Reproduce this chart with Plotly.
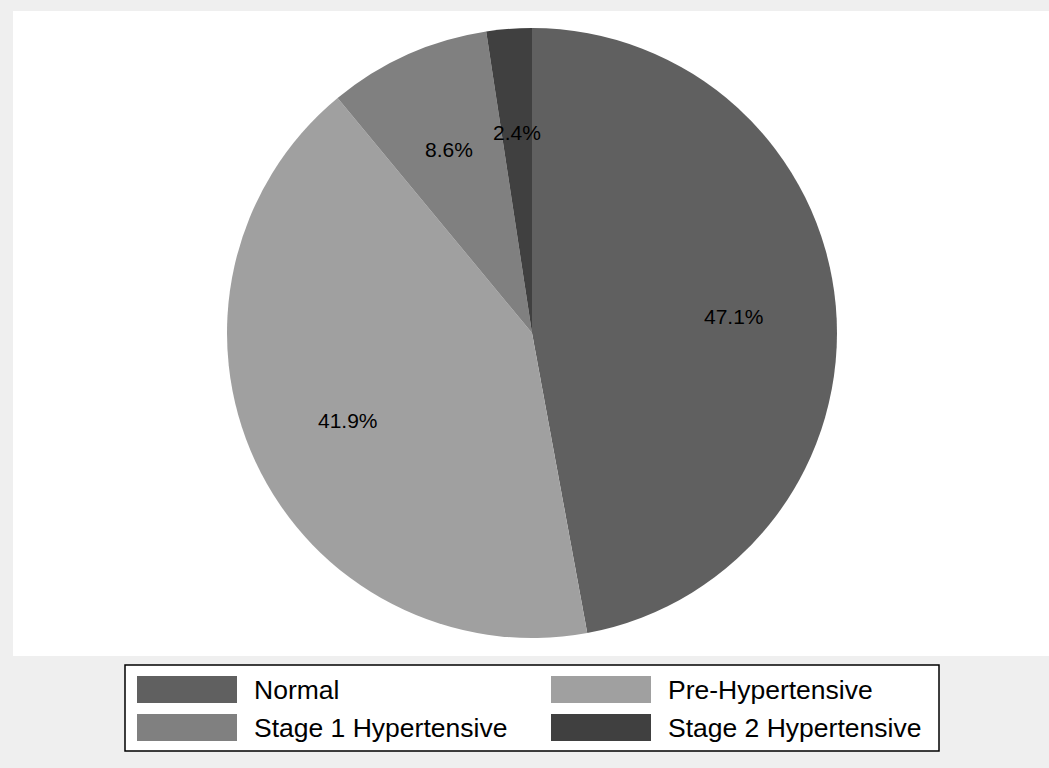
import math
import plotly.graph_objects as go

labels = ["Normal", "Pre-Hypertensive", "Stage 1 Hypertensive", "Stage 2 Hypertensive"]
values = [47.1, 41.9, 8.6, 2.4]
colors = ["#606060", "#a0a0a0", "#808080", "#404040"]

W, H = 1049, 768
FONT = "Liberation Sans, Arial, sans-serif"

# pie geometry in pixels
cx, cy, R = 532, 333, 305

def px(x):
    return x / W

def py(y):
    return 1 - y / H

fig = go.Figure()
fig.add_trace(go.Pie(
    labels=labels, values=values, sort=False, direction="clockwise", rotation=0,
    marker=dict(colors=colors, line=dict(width=0)),
    textinfo="none", hoverinfo="label+percent", showlegend=False,
    domain=dict(x=[px(cx - R), px(cx + R)], y=[py(cy + R), py(cy - R)]),
))

shapes = []
annotations = []

# white plot region
shapes.append(dict(type="rect", xref="paper", yref="paper", layer="below",
                   x0=px(13), x1=1.01, y0=py(656), y1=py(11),
                   fillcolor="white", line=dict(width=0)))

# slice labels at 2/3 radius
total = sum(values)
cum = 0
for v in values:
    mid = (cum + v / 2) / total * 2 * math.pi
    cum += v
    lx = cx + (2 / 3) * R * math.sin(mid)
    ly = cy - (2 / 3) * R * math.cos(mid) + 2
    annotations.append(dict(x=px(lx), y=py(ly), xref="paper", yref="paper",
                            text=f"{v / total * 100:.1f}%", showarrow=False,
                            xanchor="center", yanchor="middle",
                            font=dict(family=FONT, size=21, color="black")))

# legend box
shapes.append(dict(type="rect", xref="paper", yref="paper",
                   x0=px(125), x1=px(939), y0=py(751), y1=py(665),
                   fillcolor="white", line=dict(color="black", width=1.5)))
col_x = [137, 551]
row_y = [676, 714]
for i, (lab, col) in enumerate(zip(labels, colors)):
    c, r = i % 2, i // 2
    x0 = col_x[c]
    y0 = row_y[r]
    shapes.append(dict(type="rect", xref="paper", yref="paper",
                       x0=px(x0), x1=px(x0 + 100), y0=py(y0 + 27), y1=py(y0),
                       fillcolor=col, line=dict(width=0)))
    annotations.append(dict(x=px(x0 + 115), y=py(y0 + 13.5), xref="paper", yref="paper",
                            text=lab, showarrow=False, xanchor="left", yanchor="middle",
                            font=dict(family=FONT, size=26.5, color="black")))

fig.update_layout(
    width=W, height=H, autosize=False,
    margin=dict(l=0, r=0, t=0, b=0),
    paper_bgcolor="#efefef", plot_bgcolor="#efefef",
    shapes=shapes, annotations=annotations,
    showlegend=False,
)

fig.write_html("out.html", config={"displayModeBar": False},
               post_script="document.body.style.margin='0px';document.body.style.overflow='hidden';")
